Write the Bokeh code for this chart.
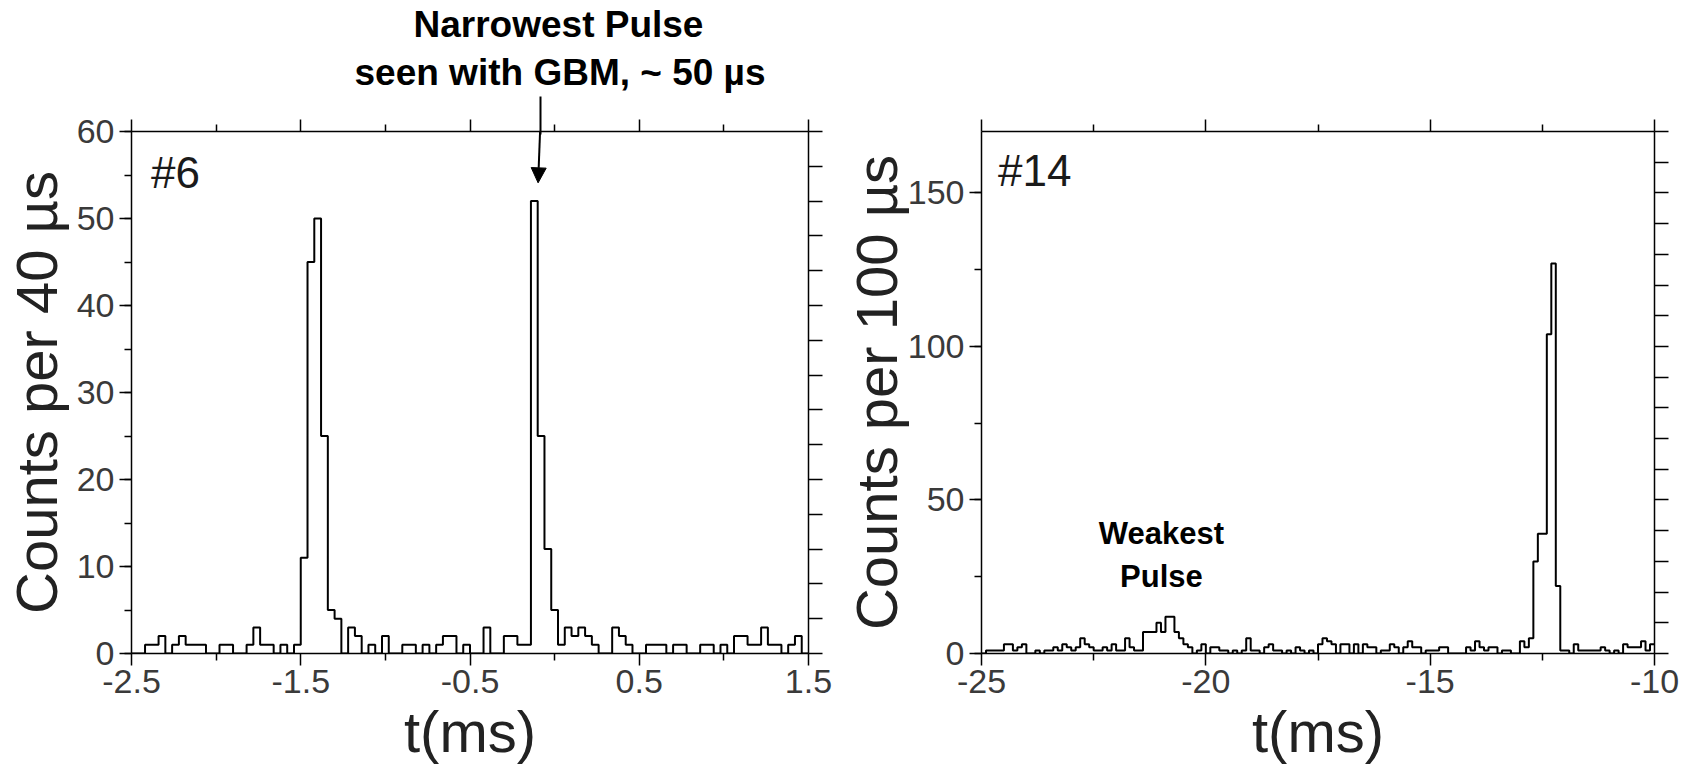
import numpy as np
from bokeh.plotting import figure
from bokeh.models import (Range1d, LinearAxis, FixedTicker, SingleIntervalTicker,
                          CustomJSTickFormatter, Label, Arrow, NormalHead, Title)
from bokeh.layouts import row
from bokeh.embed import file_html
from bokeh.resources import INLINE

# ---------------- data ----------------
# Pulse #6 : counts per 40 us bin, t from -2.5 ms
b6_start_ms = -2.5
b6_bin_ms = 0.04
b6_counts = [0, 0, 1, 1, 2, 0, 1, 2, 1, 1, 1, 0, 0, 1, 1, 0, 0, 1, 3, 1, 1, 0, 1, 0, 1,
             11, 45, 50, 25, 5, 4, 0, 3, 2, 0, 1, 0, 2, 0, 0, 1, 1, 0, 1, 0, 1, 2, 2, 0, 1,
             0, 0, 3, 0, 0, 2, 2, 1, 1, 52, 25, 12, 5, 1, 3, 2, 3, 2, 1, 0, 0, 3, 2, 1, 0,
             0, 1, 1, 1, 0, 1, 1, 0, 0, 1, 1, 0, 1, 0, 2, 2, 1, 1, 3, 1, 1, 0, 1, 2, 0]
b6_xticks = [-2.5, -1.5, -0.5, 0.5, 1.5]
b6_xminor = [-2.0, -1.0, 0.0, 1.0]

# Pulse #14 : counts per 100 us bin, t from -25 ms
b14_start_ms = -25.0
b14_bin_ms = 0.1
b14_counts = [0, 1, 1, 1, 1, 3, 3, 1, 2, 3, 0, 0, 1, 0, 1, 1, 2, 1, 3, 2, 1, 2, 5, 3, 2,
              1, 1, 2, 1, 3, 1, 1, 5, 2, 1, 1, 7, 7, 7, 10, 7, 12, 12, 7, 5, 3, 2, 0, 1, 3,
              0, 2, 2, 1, 1, 0, 1, 0, 1, 5, 1, 1, 0, 2, 3, 1, 1, 0, 1, 0, 2, 1, 0, 1, 0,
              3, 5, 4, 3, 0, 3, 3, 0, 3, 0, 3, 2, 2, 0, 1, 1, 3, 2, 0, 2, 4, 2, 2, 0, 1,
              1, 1, 2, 2, 0, 0, 0, 0, 2, 1, 4, 2, 1, 2, 2, 0, 1, 1, 0, 0, 4, 2, 5, 30, 39,
              39, 104, 127, 22, 1, 1, 0, 3, 1, 1, 1, 1, 1, 2, 1, 0, 1, 0, 3, 2, 2, 2, 4, 1, 3]
b14_xticks = [-25, -20, -15, -10]
b14_xminor = [-22.5, -17.5, -12.5]

# the narrowest pulse that the arrow points at (ms, counts)
narrow_t = -0.0976
narrow_peak = 54.1
arrow_shaft_t = -0.085

FONT = "Liberation Sans"
TICK_COLOR = "#3a3a3a"
LABEL_COLOR = "#222222"


def blank_formatter():
    return CustomJSTickFormatter(code="return ''")


def plain_formatter():
    return CustomJSTickFormatter(code="return tick.toString()")


def make_panel(width, bl, br, xr, yr, xticks, xminor, ymaj, rint, ylabel,
               counts, start, binw, ylab_standoff):
    p = figure(width=width, height=775, output_backend="svg", toolbar_location=None,
               x_range=Range1d(*xr), y_range=Range1d(*yr),
               x_axis_location=None, y_axis_location=None,
               min_border_left=bl, min_border_right=br,
               min_border_top=129, min_border_bottom=122)
    p.outline_line_color = None
    p.xgrid.visible = False
    p.ygrid.visible = False
    p.background_fill_color = "white"
    p.border_fill_color = "white"

    def style(ax, out_major=12, out_minor=7):
        ax.axis_line_color = "black"
        ax.axis_line_width = 1.5
        ax.major_tick_line_color = "black"
        ax.major_tick_line_width = 1.5
        ax.minor_tick_line_color = "black"
        ax.minor_tick_line_width = 1.5
        ax.major_tick_in = 0
        ax.major_tick_out = out_major
        ax.minor_tick_in = 0
        ax.minor_tick_out = out_minor
        ax.major_label_text_font = FONT
        ax.major_label_text_font_size = "34px"
        ax.major_label_text_color = TICK_COLOR
        ax.axis_label_text_font = FONT
        ax.axis_label_text_font_size = "58px"
        ax.axis_label_text_font_style = "normal"
        ax.axis_label_text_color = LABEL_COLOR

    xb = LinearAxis(ticker=FixedTicker(ticks=xticks, minor_ticks=xminor),
                    formatter=plain_formatter(), axis_label="t(ms)")
    style(xb)
    xb.major_label_standoff = 4
    xb.axis_label_standoff = 3
    p.add_layout(xb, "below")

    xa = LinearAxis(ticker=FixedTicker(ticks=xticks, minor_ticks=xminor),
                    formatter=blank_formatter())
    style(xa)
    xa.major_label_standoff = 0
    xa.major_label_text_font_size = "1px"
    p.add_layout(xa, "above")

    yl = LinearAxis(ticker=SingleIntervalTicker(interval=ymaj, num_minor_ticks=2),
                    axis_label=ylabel)
    style(yl)
    yl.major_label_standoff = 5
    yl.axis_label_standoff = ylab_standoff
    p.add_layout(yl, "left")

    yr_ax = LinearAxis(ticker=SingleIntervalTicker(interval=rint, num_minor_ticks=0),
                       formatter=blank_formatter())
    style(yr_ax, out_major=14, out_minor=0)
    yr_ax.major_label_standoff = 0
    yr_ax.major_label_text_font_size = "1px"
    p.add_layout(yr_ax, "right")

    edges = start + binw * np.arange(len(counts) + 1)
    ys = list(counts) + [counts[-1]]
    p.step(edges, ys, mode="after", line_color="black", line_width=2)
    return p


p1 = make_panel(840, 131, 32, (-2.5, 1.5), (0, 60), b6_xticks, b6_xminor, 10, 4,
                "Counts per 40 \u00b5s", b6_counts, b6_start_ms, b6_bin_ms, 5)
p2 = make_panel(853, 136, 39, (-25, -10), (0, 170), b14_xticks, b14_xminor, 50, 10,
                "Counts per 100 \u00b5s", b14_counts, b14_start_ms, b14_bin_ms, -4)

# panel tags
p1.add_layout(Label(x=-2.385, y=55.3, text="#6", text_font=FONT, text_font_size="44px",
                    text_color="#1a1a1a", text_align="left", text_baseline="middle"))
p2.add_layout(Label(x=-24.63, y=157.2, text="#14", text_font=FONT, text_font_size="44px",
                    text_color="#1a1a1a", text_align="left", text_baseline="middle"))

# upper part of the arrow shaft (outside the frame): a single long tick on an
# extra top axis, stacked just outside the ticked top axis
shaft = LinearAxis(ticker=FixedTicker(ticks=[arrow_shaft_t], minor_ticks=[]),
                   formatter=blank_formatter())
shaft.axis_line_color = None
shaft.major_tick_line_color = "black"
shaft.major_tick_line_width = 2
shaft.major_tick_out = 23
shaft.major_tick_in = 15
shaft.minor_tick_line_color = None
shaft.major_label_standoff = -22
shaft.major_label_text_font_size = "1px"
p1.add_layout(shaft, "above")

# annotation text above panel #6 as two title lines (inner line added first)
p1.add_layout(Title(text="seen with GBM, ~ 50 \u00b5s", align="left", offset=223,
                    standoff=7, text_font=FONT, text_font_size="37px",
                    text_font_style="bold", text_color="black"), "above")
p1.add_layout(Title(text="Narrowest Pulse", align="left", offset=282,
                    standoff=3, text_font=FONT, text_font_size="37px",
                    text_font_style="bold", text_color="black"), "above")

# lower part of the arrow, inside the frame, with its head on the pulse
p1.add_layout(Arrow(x_start=arrow_shaft_t, y_start=60.5, x_end=narrow_t, y_end=narrow_peak,
                    line_color="black", line_width=2,
                    end=NormalHead(size=15, fill_color="black", line_color="black")))

p2.add_layout(Label(x=-20.99, y=39.0, text="Weakest", text_font=FONT,
                    text_font_size="31px", text_font_style="bold", text_color="black",
                    text_align="center", text_baseline="middle"))
p2.add_layout(Label(x=-20.99, y=25.2, text="Pulse", text_font=FONT,
                    text_font_size="31px", text_font_style="bold", text_color="black",
                    text_align="center", text_baseline="middle"))

layout = row(p1, p2)
open("out.html", "w").write(file_html(layout, INLINE))
